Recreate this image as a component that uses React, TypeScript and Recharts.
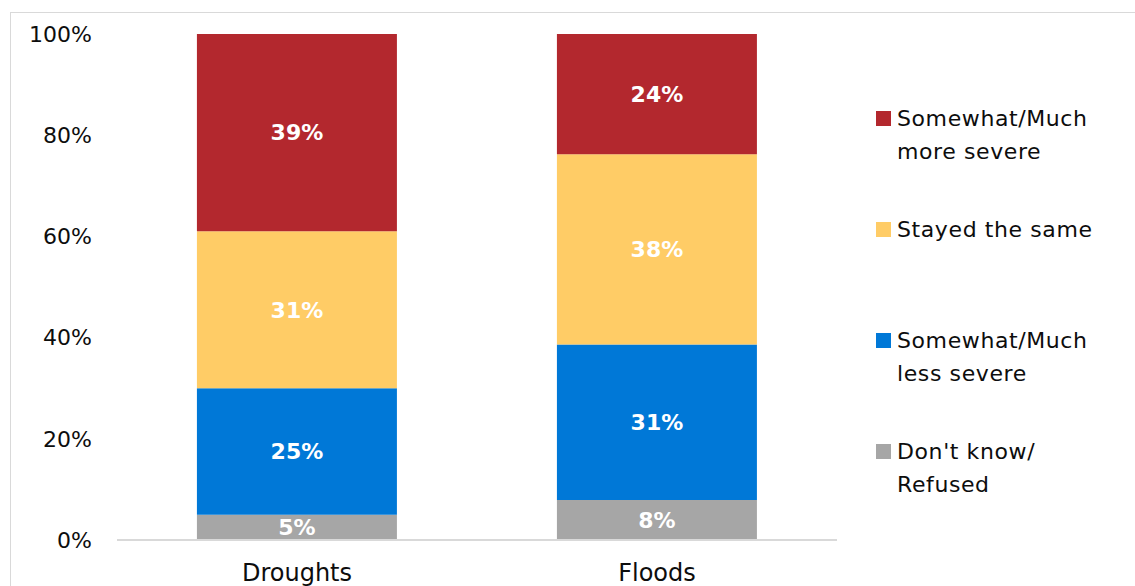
import { BarChart, Bar, XAxis, YAxis, LabelList, Legend } from 'recharts';

const categories = ['Droughts', 'Floods'];
const dontKnow = [5, 8];
const lessSevere = [25, 31];
const same = [31, 38];
const moreSevere = [39, 24];
const yTicks = [0, 0.2, 0.4, 0.6, 0.8, 1];

const series = [
  { key: 'dontKnow', name: "Don't know/\nRefused", color: '#A6A6A6', values: dontKnow },
  { key: 'lessSevere', name: 'Somewhat/Much\nless severe', color: '#0078D7', values: lessSevere },
  { key: 'same', name: 'Stayed the same', color: '#FFCC66', values: same },
  { key: 'moreSevere', name: 'Somewhat/Much\nmore severe', color: '#B3282E', values: moreSevere },
];

const data = categories.map((c, i) => {
  const row: Record<string, string | number> = { category: c };
  series.forEach((s) => (row[s.key] = s.values[i]));
  return row;
});

const FONT = '"DejaVu Sans", sans-serif';

// legend lists the series top-down, i.e. reversed stack order
function LegendBox() {
  const items = [...series].reverse();
  return (
    <div style={{ fontFamily: FONT, fontSize: 22, color: '#0d0d0d', letterSpacing: 0.6 }}>
      {items.map((it) => (
        <div key={it.key} style={{ display: 'flex', height: 111, alignItems: 'flex-start' }}>
          <div style={{ width: 15, height: 15, background: it.color, marginTop: 9, marginRight: 6, flexShrink: 0 }} />
          <div style={{ whiteSpace: 'pre-line', lineHeight: '33px' }}>{it.name}</div>
        </div>
      ))}
    </div>
  );
}

export default function App() {
  return (
    <div style={{ position: 'absolute', left: 0, top: 0, width: 1135, height: 586, background: '#fff', overflow: 'hidden' }}>
      <div
        style={{
          position: 'absolute',
          left: 10,
          top: 12,
          width: 1200,
          height: 700,
          borderTop: '1px solid #d9d9d9',
          borderLeft: '1px solid #d9d9d9',
        }}
      />
      <BarChart
        width={1135}
        height={586}
        data={data}
        stackOffset="expand"
        barCategoryGap="22.2%"
        margin={{ top: 34, right: 298, bottom: 0, left: 0 }}
      >
        <XAxis
          dataKey="category"
          height={46}
          tickLine={false}
          tickSize={0}
          tickMargin={24}
          axisLine={{ stroke: '#d9d9d9', strokeWidth: 2 }}
          tick={{ fontSize: 24, fill: '#0d0d0d', fontFamily: FONT }}
        />
        <YAxis
          width={117}
          ticks={yTicks}
          domain={[0, 1]}
          tickFormatter={(v: number) => `${Math.round(v * 100)}%`}
          axisLine={false}
          tickLine={false}
          tickSize={0}
          tickMargin={25}
          tick={{ fontSize: 22, fill: '#0d0d0d', fontFamily: FONT }}
        />
        <Legend
          layout="vertical"
          align="center"
          verticalAlign="middle"
          content={<LegendBox />}
          wrapperStyle={{ left: 876, top: 102, width: 259 }}
        />
        {series.map((s) => (
          <Bar key={s.key} dataKey={s.key} name={s.name} stackId="a" fill={s.color} isAnimationActive={false}>
            <LabelList
              dataKey={s.key}
              position="center"
              formatter={(v: any) => `${v}%`}
              style={{ fill: '#fff', fontSize: 22, fontWeight: 'bold', fontFamily: FONT }}
            />
          </Bar>
        ))}
      </BarChart>
    </div>
  );
}
